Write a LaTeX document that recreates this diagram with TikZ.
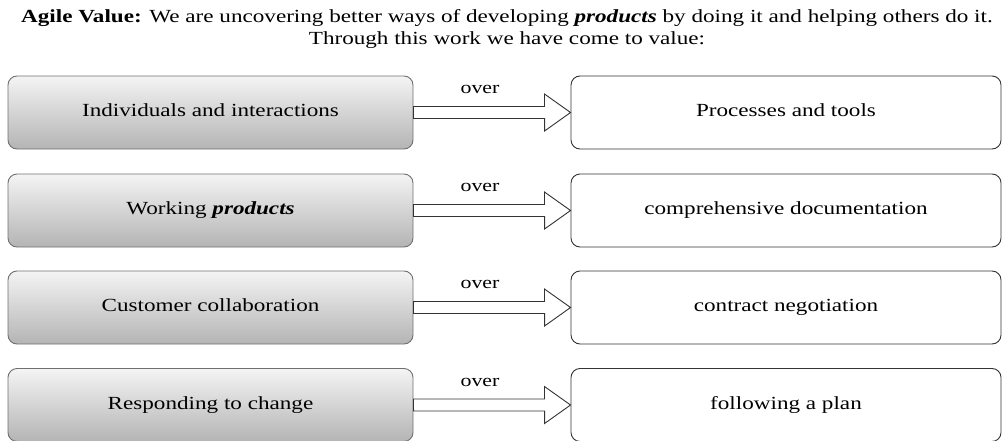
\documentclass[tikz,border=0pt]{standalone}
\usepackage{fontspec}
\setmainfont{Liberation Serif}[FakeStretch=1.25]
\definecolor{bordergray}{HTML}{707070}
\definecolor{topgray}{HTML}{F4F4F4}
\definecolor{botgray}{HTML}{B4B4B4}
\tikzset{
  boxfont/.style={font=\fontsize{18.5}{22}\selectfont, text height=12pt, text depth=4pt},
  leftbox/.style={draw=bordergray, line width=0.9pt, rounded corners=9pt, top color=topgray, bottom color=botgray,
    minimum width=405pt, minimum height=73pt, boxfont, inner sep=0pt},
  rightbox/.style={draw=black!80, line width=0.9pt, rounded corners=9pt, fill=white,
    minimum width=430pt, minimum height=73pt, boxfont, inner sep=0pt},
  overlbl/.style={font=\fontsize{17.5}{20}\selectfont, inner sep=0pt},
  titletext/.style={font=\fontsize{18.5}{22}\selectfont, align=center, inner sep=0pt},
  blockarrow/.style={draw=black!80, line width=0.9pt, fill=white, line join=miter}
}
\begin{document}
\begin{tikzpicture}[x=1pt,y=1pt]
\useasboundingbox (0,0) rectangle (1003,-441);
\node[titletext] (title) at (507,-29) {\textbf{Agile Value:} We are uncovering better ways of developing \textbf{\textit{products}} by doing it and helping others do it.\\Through this work we have come to value:};
\foreach \i/\y/\lt/\rt in {1/112.5/{Individuals and interactions}/{Processes and tools},
  2/210.5/{Working \textbf{\textit{products}}}/{comprehensive documentation},
  3/307.5/{Customer collaboration}/{contract negotiation},
  4/405/{Responding to change}/{following a plan}}{
  \node[leftbox] (L\i) at (210.5,-\y) {\lt};
  \node[rightbox] (R\i) at (786,-\y) {\rt};
  \draw[blockarrow] (L\i.east) ++(0,6) -- ++(131,0) -- ++(0,12.5) -- (R\i.west) -- ++(-26,-18.5) -- ++(0,12.5) -- ++(-131,0) -- cycle;
  \node[overlbl] (O\i) at (480,-\y+23) {over};
}
\end{tikzpicture}
\end{document}
